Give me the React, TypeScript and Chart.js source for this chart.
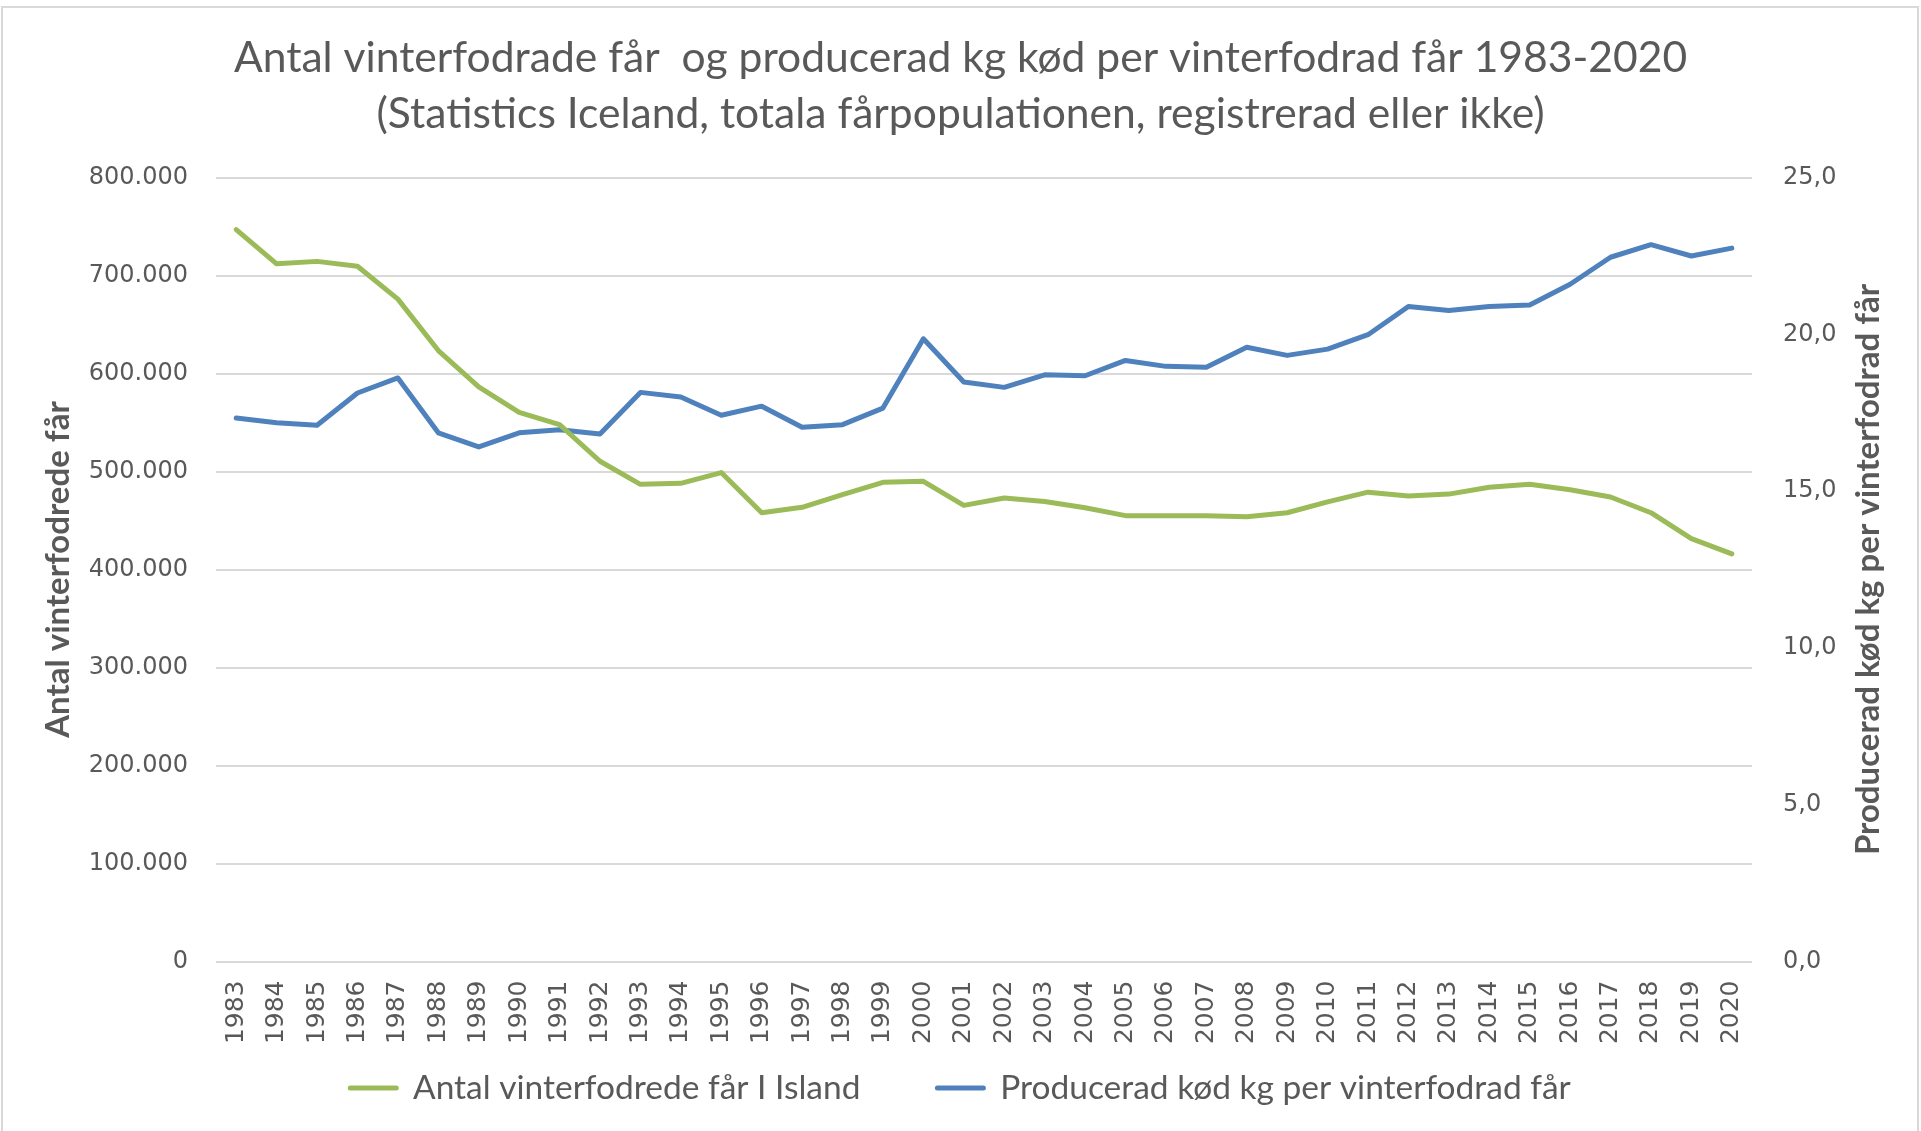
import React, { useEffect, useRef } from "react";
import { Chart, registerables } from "chart.js";

Chart.register(...registerables);

const years = [
  "1983", "1984", "1985", "1986", "1987", "1988", "1989", "1990", "1991", "1992",
  "1993", "1994", "1995", "1996", "1997", "1998", "1999", "2000", "2001", "2002",
  "2003", "2004", "2005", "2006", "2007", "2008", "2009", "2010", "2011", "2012",
  "2013", "2014", "2015", "2016", "2017", "2018", "2019", "2020",
];

const sheepCount = [
  747000, 712000, 714500, 709500, 676000, 623500, 586500, 560500, 548000, 510500,
  487000, 488000, 499000, 458000, 463500, 476500, 489000, 490000, 465500, 473000,
  469500, 463000, 455000, 455000, 455000, 454000, 458000, 469000, 479000, 475000,
  477000, 484000, 487000, 481500, 474000, 458000, 431500, 416000,
];

const meatPerSheep = [
  17.33, 17.18, 17.10, 18.13, 18.61, 16.86, 16.41, 16.86, 16.96, 16.82,
  18.15, 18.00, 17.42, 17.71, 17.04, 17.12, 17.65, 19.86, 18.48, 18.31,
  18.71, 18.68, 19.17, 18.98, 18.95, 19.59, 19.33, 19.53, 19.99, 20.89,
  20.76, 20.89, 20.94, 21.60, 22.46, 22.86, 22.50, 22.75,
];

const leftTickLabels = [
  "0", "100.000", "200.000", "300.000", "400.000", "500.000", "600.000", "700.000", "800.000",
];
const rightTickLabels = ["0,0", "5,0", "10,0", "15,0", "20,0", "25,0"];

const titleLines = [
  "Antal vinterfodrade får  og producerad kg kød per vinterfodrad får 1983-2020",
  "(Statistics Iceland, totala fårpopulationen, registrerad eller ikke)",
];
const seriesNames = ["Antal vinterfodrede får I Island", "Producerad kød kg per vinterfodrad får"];
const leftAxisTitle = "Antal vinterfodrede får";
const rightAxisTitle = "Producerad kød kg per vinterfodrad får";

const TEXT = "#595959";
const GRID = "#D9D9D9";
const GREEN = "#9BBB59";
const BLUE = "#4F81BD";

const LEGEND_FONT = 33.5;
const LEGEND_PAD = 77;
const LEGEND_CENTER_Y = 1088;

export default function App() {
  const canvasRef = useRef<HTMLCanvasElement | null>(null);

  useEffect(() => {
    const canvas = canvasRef.current;
    if (!canvas) return;

    const framePlugin = {
      id: "frameAndRightTitle",
      afterLayout(chart: any) {
        const lg = chart.legend;
        if (lg) {
          const h = lg.bottom - lg.top;
          lg.top = LEGEND_CENTER_Y - LEGEND_PAD - LEGEND_FONT / 2;
          lg.bottom = lg.top + h;
        }
      },
      beforeDraw(chart: any) {
        const ctx = chart.ctx;
        ctx.save();
        ctx.fillStyle = "#ffffff";
        ctx.fillRect(0, 0, chart.width, chart.height);
        ctx.strokeStyle = GRID;
        ctx.lineWidth = 2;
        ctx.strokeRect(2, 7, 1916, 1200);
        ctx.restore();
      },
      afterDraw(chart: any) {
        const ctx = chart.ctx;
        const area = chart.chartArea;
        ctx.save();
        ctx.translate(1868, (area.top + area.bottom) / 2);
        ctx.rotate(-Math.PI / 2);
        ctx.font = "bold 33px Lato";
        ctx.fillStyle = TEXT;
        ctx.textAlign = "center";
        ctx.textBaseline = "middle";
        ctx.fillText(rightAxisTitle, 0, 0);
        ctx.restore();
      },
    };

    const chart = new Chart(canvas, {
      type: "line",
      data: {
        labels: years,
        datasets: [
          {
            label: seriesNames[0],
            data: sheepCount,
            yAxisID: "y",
            borderColor: GREEN,
            backgroundColor: GREEN,
            borderWidth: 5,
            pointRadius: 0,
            tension: 0,
            borderJoinStyle: "round",
            borderCapStyle: "round",
          },
          {
            label: seriesNames[1],
            data: meatPerSheep,
            yAxisID: "y1",
            borderColor: BLUE,
            backgroundColor: BLUE,
            borderWidth: 5,
            pointRadius: 0,
            tension: 0,
            borderJoinStyle: "round",
            borderCapStyle: "round",
          },
        ],
      },
      options: {
        responsive: false,
        animation: false,
        devicePixelRatio: 1,
        layout: { padding: { left: 0, right: 0, top: 0, bottom: -40.5 } },
        plugins: {
          title: {
            display: true,
            text: titleLines,
            color: TEXT,
            font: { family: "Lato", size: 42.6, weight: "normal", lineHeight: 56 / 42.6 },
            padding: { top: 30.6, bottom: 35 },
          },
          legend: {
            display: true,
            position: "bottom",
            labels: {
              color: TEXT,
              font: { family: "Lato", size: LEGEND_FONT },
              boxWidth: 46,
              boxHeight: 0.1,
              padding: LEGEND_PAD,
            },
          },
          tooltip: { enabled: false },
        },
        scales: {
          x: {
            type: "category",
            offset: true,
            grid: { display: false, drawTicks: false },
            border: { display: false },
            ticks: {
              color: TEXT,
              font: { family: "DejaVu Sans", size: 25 },
              minRotation: 90,
              maxRotation: 90,
              autoSkip: false,
              padding: 19,
            },
            afterFit(scale: any) {
              scale.height = 89.5;
            },
          },
          y: {
            type: "linear",
            position: "left",
            min: 0,
            max: 800000,
            grid: { color: GRID, lineWidth: 2, drawTicks: false },
            border: { display: false },
            ticks: {
              stepSize: 100000,
              color: TEXT,
              font: { family: "DejaVu Sans", size: 24 },
              padding: 28,
              callback: (v: any) => leftTickLabels[Math.round(Number(v) / 100000)],
            },
            title: {
              display: true,
              text: leftAxisTitle,
              color: TEXT,
              font: { family: "Lato", size: 33, weight: "bold" },
              padding: { top: 39, bottom: 0 },
            },
            afterFit(scale: any) {
              scale.width = 216;
            },
          },
          y1: {
            type: "linear",
            position: "right",
            min: 0,
            max: 25,
            grid: { drawOnChartArea: false, drawTicks: false },
            border: { display: false },
            ticks: {
              stepSize: 5,
              color: TEXT,
              font: { family: "DejaVu Sans", size: 24 },
              padding: 31,
              callback: (v: any) => rightTickLabels[Math.round(Number(v) / 5)],
            },
            afterFit(scale: any) {
              scale.width = 169;
            },
          },
        },
      } as any,
      plugins: [framePlugin],
    });

    return () => chart.destroy();
  }, []);

  return (
    <div style={{ position: "fixed", left: 0, top: 0, width: 1921, height: 1131, background: "#fff" }}>
      <canvas ref={canvasRef} width={1921} height={1131} style={{ width: 1921, height: 1131, display: "block" }} />
    </div>
  );
}
